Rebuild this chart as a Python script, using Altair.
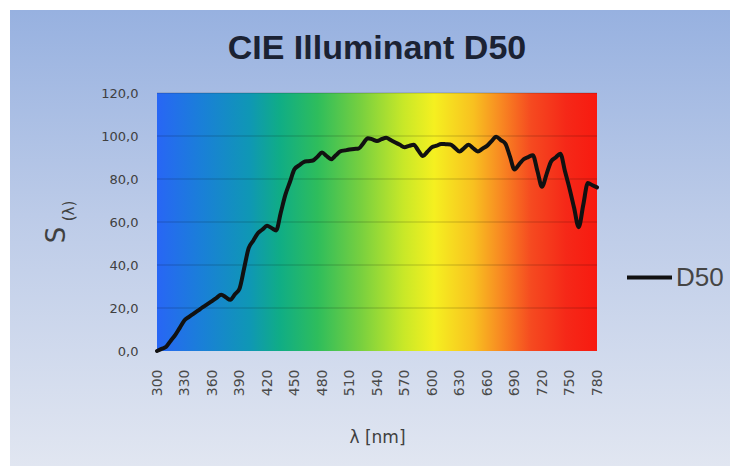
import altair as alt
import pandas as pd

wavelength = list(range(300, 781, 5))
d50 = [0.0, 1.0, 2.0, 4.8, 7.5, 10.9, 14.3, 15.9, 17.4, 18.9,
       20.4, 21.8, 23.2, 24.7, 26.2, 25.0, 23.8, 26.4, 29.0, 38.4,
       47.8, 51.3, 54.8, 56.5, 58.2, 57.2, 56.1, 64.3, 72.6, 78.6,
       84.6, 86.3, 87.9, 88.3, 88.6, 90.4, 92.3, 90.7, 89.2, 91.0,
       92.9, 93.3, 93.7, 94.0, 94.2, 96.6, 99.0, 98.4, 97.7, 98.5,
       99.2, 98.1, 97.0, 95.9, 94.8, 95.4, 95.9, 93.3, 90.7, 92.7,
       94.8, 95.5, 96.3, 96.2, 96.1, 94.5, 92.8, 94.4, 95.9, 94.3,
       92.8, 94.1, 95.4, 97.6, 99.7, 98.1, 96.5, 90.5, 84.4, 86.8,
       89.2, 90.2, 91.1, 83.7, 76.4, 82.3, 88.2, 90.0, 91.8, 83.7,
       75.6, 66.6, 57.6, 67.9, 78.1, 77.1, 76.1]
series_name = ["D50"] * len(wavelength)
x_ticks = list(range(300, 781, 30))
y_ticks = [0, 20, 40, 60, 80, 100, 120]
y_grid = [20, 40, 60, 80, 100, 120]
title_text = "CIE Illuminant D50"

df = pd.DataFrame({"wl": wavelength, "s": d50, "series": series_name})
grid_df = pd.DataFrame({"g": y_grid})
spec_df = pd.DataFrame({"x0": [300], "x1": [780], "y0": [0], "y1": [120]})
one = pd.DataFrame({"a": [0]})

W, H = 440, 258
PL, PT, PR, PB = 149, 85, 133, 115

xscale = alt.Scale(domain=[300, 780], nice=False, zero=False)
yscale = alt.Scale(domain=[0, 120], nice=False)

xaxis = alt.Axis(values=x_ticks, labelAngle=270, labelFont="DejaVu Sans",
                 labelFontSize=14, labelColor="#4a4a4a", labelPadding=18,
                 ticks=False, domain=False, grid=False, zindex=1,
                 title="λ [nm]", titleFont="DejaVu Sans", titleFontSize=17,
                 titleFontWeight="normal", titleColor="#404040", titlePadding=34,
                 labelOverlap=False, labelFlush=False)
yaxis = alt.Axis(values=y_ticks,
                 labelExpr="replace(format(datum.value, '.1f'), '.', ',')",
                 labelFont="DejaVu Sans", labelFontSize=13, labelColor="#404040",
                 labelPadding=19, ticks=False, domain=False, grid=False,
                 zindex=1, title=None, labelOverlap=False, labelFlush=False)

bg_grad = alt.Gradient(
    gradient="linear", x1=0, x2=0, y1=0, y2=1,
    stops=[alt.GradientStop(color="#97b1e0", offset=0),
           alt.GradientStop(color="#bccbe8", offset=0.45),
           alt.GradientStop(color="#e1e6f1", offset=1)])

spec_grad = alt.Gradient(
    gradient="linear", x1=0, x2=1, y1=0, y2=0,
    stops=[alt.GradientStop(color="#2866f5", offset=0),
           alt.GradientStop(color="#1a7fd8", offset=0.1),
           alt.GradientStop(color="#0f97b5", offset=0.21),
           alt.GradientStop(color="#10ad85", offset=0.28),
           alt.GradientStop(color="#2ebd5c", offset=0.365),
           alt.GradientStop(color="#75cf40", offset=0.46),
           alt.GradientStop(color="#c8e828", offset=0.56),
           alt.GradientStop(color="#f5f020", offset=0.63),
           alt.GradientStop(color="#f8c020", offset=0.72),
           alt.GradientStop(color="#f88a22", offset=0.78),
           alt.GradientStop(color="#f54a20", offset=0.85),
           alt.GradientStop(color="#f52818", offset=0.93),
           alt.GradientStop(color="#f81a10", offset=1)])

background = alt.Chart(one).mark_rect(fill=bg_grad).encode(
    x=alt.value(-PL + 2), x2=alt.value(W + PR),
    y=alt.value(-PT + 2), y2=alt.value(H + PB))

spectrum = alt.Chart(spec_df).mark_rect(fill=spec_grad).encode(
    x=alt.X("x0:Q", scale=xscale, axis=xaxis), x2="x1:Q",
    y=alt.Y("y0:Q", scale=yscale, axis=yaxis), y2="y1:Q")

grid = alt.Chart(grid_df).mark_rule(color="#000000", opacity=0.1, strokeWidth=2).encode(
    y=alt.Y("g:Q", scale=yscale, axis=yaxis))

line = alt.Chart(df).mark_line(strokeWidth=4, strokeJoin="round", strokeCap="round",
                               interpolate="monotone").encode(
    x=alt.X("wl:Q", scale=xscale, axis=xaxis),
    y=alt.Y("s:Q", scale=yscale, axis=yaxis),
    color=alt.Color("series:N", scale=alt.Scale(domain=["D50"], range=["#111111"]),
                    legend=alt.Legend(title=None, orient="none", legendX=468, legendY=160,
                                      symbolType="stroke", symbolSize=2025,
                                      symbolStrokeWidth=4, labelFont="Liberation Sans",
                                      labelFontSize=26, labelColor="#454545",
                                      labelOffset=2, zindex=1)))

ylab_s = alt.Chart(one).mark_text(text="S", angle=270, fontSize=26, font="DejaVu Sans",
                                  color="#404040").encode(
    x=alt.value(-100), y=alt.value(142))
ylab_l = alt.Chart(one).mark_text(text="(λ)", angle=270, fontSize=15, font="DejaVu Sans",
                                  color="#404040").encode(
    x=alt.value(-88), y=alt.value(118))

title = alt.Chart(one).mark_text(text=title_text, fontSize=34, font="Liberation Sans",
                                 fontWeight="bold", color="#1b2233",
                                 baseline="middle", align="center").encode(
    x=alt.value(W / 2), y=alt.value(-44))

chart = alt.layer(background, spectrum, grid, line, ylab_s, ylab_l, title).properties(
    width=W, height=H,
    padding={"left": PL, "top": PT, "right": PR, "bottom": PB},
    autosize=alt.AutoSizeParams(type="none"),
).configure_view(stroke=None)

chart.save("out.html", embed_options={"renderer": "svg", "actions": False})
